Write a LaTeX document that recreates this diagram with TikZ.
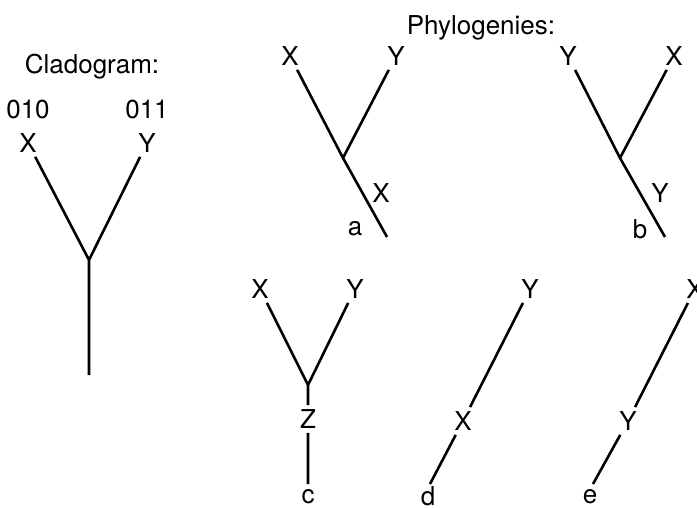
\documentclass[tikz,border=0pt]{standalone}
\usepackage{fontspec}
\setmainfont{TeX Gyre Heros}
\usetikzlibrary{positioning}
\tikzset{
  taxon/.style={inner sep=2pt,font=\fontsize{13}{15}\selectfont},
  branch/.style={line width=1.3pt},
  treename/.style={inner sep=1pt,font=\fontsize{13}{15}\selectfont}
}

\begin{document}
\begin{tikzpicture}[x=0.5pt,y=-0.5pt]
  \useasboundingbox (0,0) rectangle (697,508);

  % cladogram
  \node[taxon] (cladT) at (92,67) {Cladogram:};
  \node[taxon] (cX) at (28,143) {X};
  \node[taxon] (cY) at (147,143) {Y};
  \node[taxon,above=3pt of cX] (cXs) {010};
  \node[taxon,above=3pt of cY] (cYs) {011};
  \coordinate (cJ) at (89,260);
  \coordinate (cR) at (89,375);
  \draw[branch] (cX) -- (cJ) -- (cY) (cJ) -- (cR);

  \node[taxon] (phyT) at (481,28) {Phylogenies:};

  % a
  \node[taxon] (aX) at (290,56) {X};
  \node[taxon] (aY) at (396,56) {Y};
  \coordinate (aJ) at (343,158);
  \coordinate (aR) at (387,237);
  \draw[branch] (aX) -- (aJ) -- (aR) (aY) -- (aJ);
  \node[taxon] (aXs) at (381,193) {X};
  \node[treename] (aN) at (355,229) {a};

  % b
  \node[taxon] (bY) at (568,56) {Y};
  \node[taxon] (bX) at (674,56) {X};
  \coordinate (bJ) at (620,158);
  \coordinate (bR) at (665,237);
  \draw[branch] (bY) -- (bJ) -- (bR) (bX) -- (bJ);
  \node[taxon] (bYs) at (660,193) {Y};
  \node[treename] (bN) at (640,229) {b};

  % c
  \node[taxon] (cX2) at (260,289) {X};
  \node[taxon] (cY2) at (355,289) {Y};
  \coordinate (cJ2) at (308,385);
  \node[taxon] (cZ2) at (308,419) {Z};
  \coordinate (cR2) at (308,484);
  \draw[branch] (cX2) -- (cJ2) -- (cY2) (cJ2) -- (cZ2) -- (cR2);
  \node[treename] (cN) at (308,497) {c};

  % d
  \node[taxon] (dY) at (530,289) {Y};
  \node[taxon] (dX) at (463,421) {X};
  \coordinate (dR) at (430,484);
  \draw[branch] (dY) -- (dX) -- (dR);
  \node[treename] (dN) at (428,496) {d};

  % e
  \node[taxon] (eX) at (695,289) {X};
  \node[taxon] (eY) at (628,421) {Y};
  \coordinate (eR) at (593,484);
  \draw[branch] (eX) -- (eY) -- (eR);
  \node[treename] (eN) at (590,497) {e};
\end{tikzpicture}
\end{document}
